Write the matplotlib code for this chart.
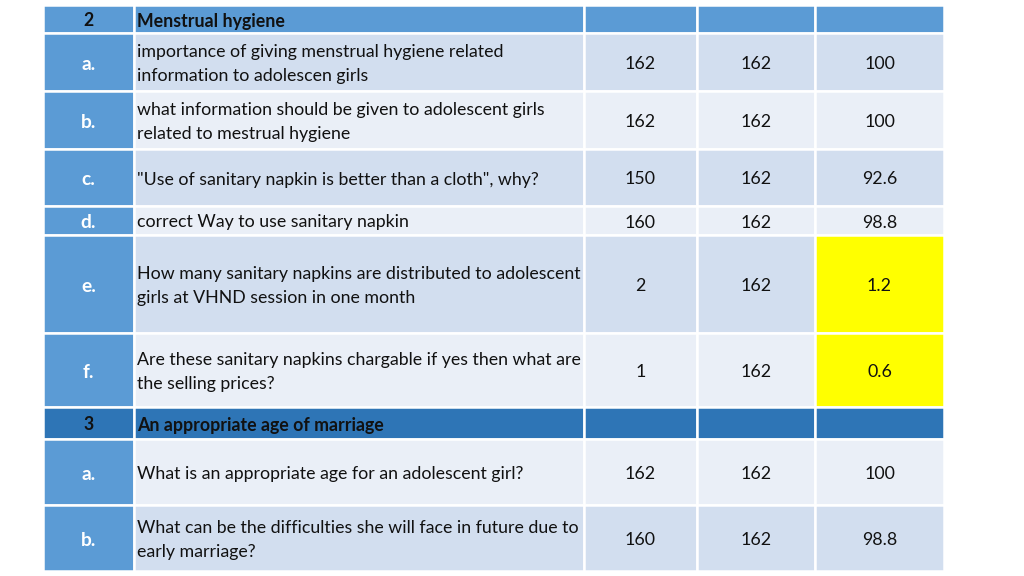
import matplotlib
matplotlib.use("Agg")
import matplotlib.pyplot as plt
from matplotlib.patches import Rectangle

plt.rcParams['font.family'] = ['Lato', 'DejaVu Sans']

# table content
row_ids = ["2", "a.", "b.", "c.", "d.", "e.", "f.", "3", "a.", "b."]
questions = [
    "Menstrual hygiene",
    "importance of giving menstrual hygiene related\ninformation to adolescen girls",
    "what information should be given to adolescent girls\nrelated to mestrual hygiene",
    "\"Use of sanitary napkin is better than a cloth\", why?",
    "correct Way to use sanitary napkin",
    "How many sanitary napkins are distributed to adolescent\ngirls at VHND session in one month",
    "Are these sanitary napkins chargable if yes then what are\nthe selling prices?",
    "An appropriate age of marriage",
    "What is an appropriate age for an adolescent girl?",
    "What can be the difficulties she will face in future due to\nearly marriage?",
]
yes_count = ["", "162", "162", "150", "160", "2", "1", "", "162", "160"]
total = ["", "162", "162", "162", "162", "162", "162", "", "162", "162"]
percent = ["", "100", "100", "92.6", "98.8", "1.2", "0.6", "", "100", "98.8"]
is_section = [True, False, False, False, False, False, False, True, False, False]
highlight = [False, False, False, False, False, True, True, False, False, False]

# layout (pixels)
col_edges = [43, 134, 584, 697, 815, 944]
row_edges = [5, 33, 91, 149, 206, 235, 333, 407, 439, 505, 571]
shade = ["#D2DEEF", "#D2DEEF", "#EAEFF7", "#D2DEEF", "#EAEFF7", "#D2DEEF", "#EAEFF7",
         "#D2DEEF", "#EAEFF7", "#D2DEEF"]

fig = plt.figure(figsize=(10.24, 5.76), dpi=100)
ax = fig.add_axes([0, 0, 1, 1])
ax.set_xlim(0, 1024)
ax.set_ylim(576, 0)
ax.axis("off")

fs = 12.8
dy = 2
for i in range(len(row_ids)):
    y0, y1 = row_edges[i], row_edges[i + 1]
    yc = (y0 + y1) / 2 + dy
    if is_section[i]:
        bg = "#5B9BD5" if i == 0 else "#2E75B6"
        for c in range(5):
            ax.add_patch(Rectangle((col_edges[c], y0), col_edges[c + 1] - col_edges[c], y1 - y0,
                                   facecolor=bg, edgecolor="white", lw=1.8))
        ax.text((col_edges[0] + col_edges[1]) / 2, yc, row_ids[i], ha="center", va="center",
                fontsize=fs, fontweight="bold", color="#111111")
        ax.text(col_edges[1] + 3, yc, questions[i], ha="left", va="center",
                fontsize=fs, fontweight="bold", color="#111111")
        continue
    bg = shade[i]
    ax.add_patch(Rectangle((col_edges[0], y0), col_edges[1] - col_edges[0], y1 - y0,
                           facecolor="#5B9BD5", edgecolor="white", lw=1.8))
    ax.text((col_edges[0] + col_edges[1]) / 2, yc, row_ids[i], ha="center", va="center",
            fontsize=fs + 1, fontweight="bold", color="white")
    for c in range(1, 5):
        fc = "#FFFF00" if (c == 4 and highlight[i]) else bg
        ax.add_patch(Rectangle((col_edges[c], y0), col_edges[c + 1] - col_edges[c], y1 - y0,
                               facecolor=fc, edgecolor="white", lw=1.8))
    ax.text(col_edges[1] + 3, yc, questions[i], ha="left", va="center",
            fontsize=fs, color="#111111", linespacing=1.65)
    for c, v in zip([2, 3, 4], [yes_count[i], total[i], percent[i]]):
        ax.text((col_edges[c] + col_edges[c + 1]) / 2, yc, v, ha="center", va="center",
                fontsize=fs, color="#111111")

fig.savefig("out.png", dpi=100, facecolor="white")
